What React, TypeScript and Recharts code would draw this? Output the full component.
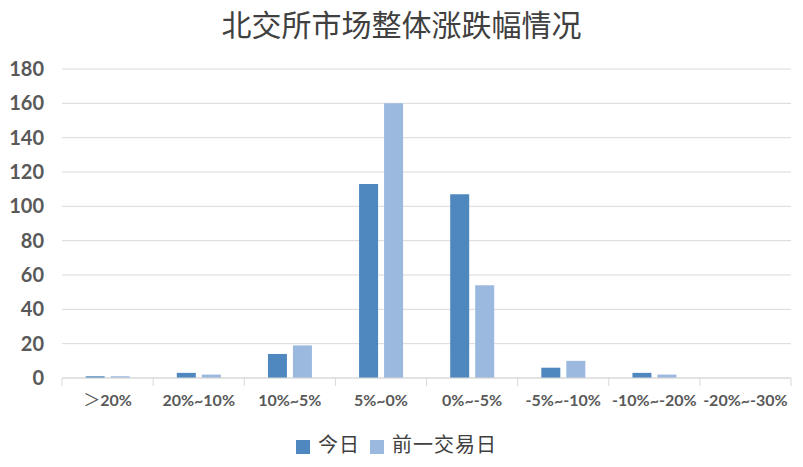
import { BarChart, Bar, XAxis, YAxis, CartesianGrid, Legend } from "recharts";

const categories = [
  "＞20%",
  "20%~10%",
  "10%~5%",
  "5%~0%",
  "0%~-5%",
  "-5%~-10%",
  "-10%~-20%",
  "-20%~-30%",
];
const today = [1, 3, 14, 113, 107, 6, 3, 0];
const previousDay = [1, 2, 19, 160, 54, 10, 2, 0];
const yTicks = [0, 20, 40, 60, 80, 100, 120, 140, 160, 180];

const data = categories.map((name, i) => ({
  name,
  今日: today[i],
  前一交易日: previousDay[i],
}));

const labelFont = "Lato, 'Open Sans', sans-serif";
const cjkFont = "'Noto Sans CJK SC', serif";
const gridColor = "#D9D9D9";
const LABEL_GAP = 17;
const TICK_LEN = 8;

// category label plus the divider tick marks sitting between categories
function CategoryTick(props: any) {
  const { x, y, payload, index, visibleTicksCount } = props;
  const half = payload.offset || 0;
  const axisY = y - LABEL_GAP;
  const isLast = index === visibleTicksCount - 1;
  const text = String(payload.value);
  const wide = text.startsWith("＞");
  return (
    <g>
      <line
        x1={x - half}
        x2={x - half}
        y1={axisY}
        y2={axisY + TICK_LEN}
        stroke={gridColor}
      />
      {isLast && (
        <line
          x1={x + half}
          x2={x + half}
          y1={axisY}
          y2={axisY + TICK_LEN}
          stroke={gridColor}
        />
      )}
      <text
        x={x}
        y={y}
        dy="0.71em"
        textAnchor="middle"
        fill="#595959"
        fontSize={16}
        fontWeight={700}
        fontFamily={labelFont}
      >
        {wide ? (
          <>
            <tspan fontFamily={cjkFont} fontWeight={400} fontSize={17}>
              ＞
            </tspan>
            <tspan>{text.slice(1)}</tspan>
          </>
        ) : (
          text
        )}
      </text>
    </g>
  );
}

export default function App() {
  return (
    <div
      style={{
        position: "absolute",
        left: 0,
        top: 0,
        width: 803,
        height: 467,
        background: "#fff",
      }}
    >
      <div
        style={{
          position: "absolute",
          top: 4,
          left: 0,
          width: 803,
          textAlign: "center",
          fontSize: 30,
          color: "#404040",
          fontFamily: cjkFont,
          lineHeight: "38px",
        }}
      >
        北交所市场整体涨跌幅情况
      </div>
      <BarChart
        width={803}
        height={467}
        data={data}
        margin={{ top: 69, right: 12, left: 0, bottom: 8 }}
        barGap={6}
        barCategoryGap="26%"
      >
        <CartesianGrid vertical={false} stroke={gridColor} />
        <XAxis
          dataKey="name"
          height={51}
          axisLine={{ stroke: gridColor }}
          tickLine={false}
          tickSize={0}
          tickMargin={LABEL_GAP}
          interval={0}
          tick={<CategoryTick />}
        />
        <YAxis
          width={62}
          domain={[0, 180]}
          ticks={yTicks}
          axisLine={false}
          tickLine={false}
          tickMargin={12}
          tick={{
            fill: "#595959",
            fontSize: 20,
            fontWeight: 700,
            fontFamily: labelFont,
          }}
        />
        <Legend
          verticalAlign="bottom"
          iconType="square"
          iconSize={14}
          wrapperStyle={{
            fontSize: 20,
            fontFamily: cjkFont,
            lineHeight: "30px",
            paddingLeft: 6,
          }}
          formatter={(value) => (
            <span
              style={{
                color: "#404040",
                marginLeft: 4,
                letterSpacing: 1,
              }}
            >
              {value}
            </span>
          )}
        />
        <Bar dataKey="今日" fill="#4F88BF" isAnimationActive={false} />
        <Bar dataKey="前一交易日" fill="#9BB9DF" isAnimationActive={false} />
      </BarChart>
    </div>
  );
}
